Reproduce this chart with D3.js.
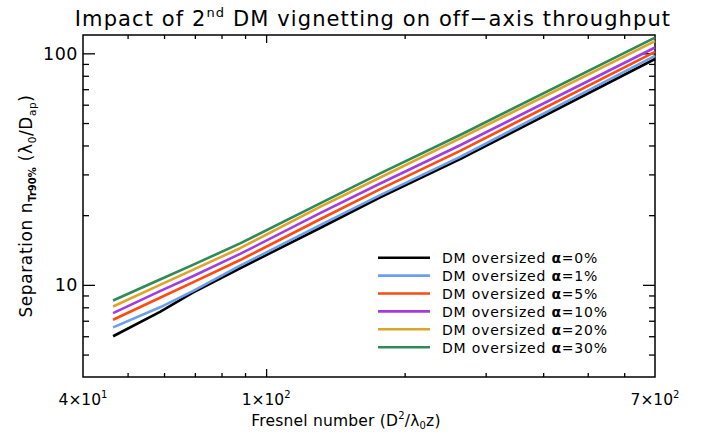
<!DOCTYPE html>
<html><head><meta charset="utf-8">
<script src="https://cdn.jsdelivr.net/npm/d3@7"></script>
<style>body{margin:0;background:#fff}svg{display:block}</style>
</head><body><svg id="c" width="717" height="435"></svg>
<script>
const fresnel = [46.5, 58.8, 69.3, 87.8, 131, 177, 264, 700];
const alphaLabels = ["0%", "1%", "5%", "10%", "20%", "30%"];
const sep0  = [6.0, 7.65, 9.25, 11.8, 17.6, 23.9, 34.9, 94.5];
const sep1  = [6.55, 8.0, 9.4, 12.1, 18.1, 24.4, 35.7, 97.5];
const sep5  = [7.07, 8.8, 10.25, 12.8, 19.2, 25.9, 37.9, 101.5];
const sep10 = [7.55, 9.4, 10.9, 13.6, 20.4, 27.4, 40.1, 106];
const sep20 = [8.06, 10.0, 11.6, 14.4, 21.7, 29.1, 42.9, 113];
const sep30 = [8.56, 10.55, 12.2, 15.1, 22.5, 30.3, 44.4, 117];
const seriesColors = ["#000000", "#6a9ff0", "#ff4a10", "#a03ce0", "#dca428", "#2e8b57"];
const xMajor = [100];
const xMinor = [50, 60, 70, 80, 90, 200, 300, 400, 500, 600];
const xTickLabels = [{v: 40, m: "4", e: "1"}, {v: 100, m: "1", e: "2"}, {v: 700, m: "7", e: "2"}];
const yMajor = [10, 100];
const yMinor = [5, 6, 7, 8, 9, 20, 30, 40, 50, 60, 70, 80, 90];

const series = [sep0, sep1, sep5, sep10, sep20, sep30].map((vals, i) => ({
  label: alphaLabels[i], color: seriesColors[i],
  pts: fresnel.map((f, j) => [f, vals[j]])
}));

const FONT = "DejaVu Sans";
const svg = d3.select("#c");
const L = 83, R = 655, T = 35, B = 377;
const x = d3.scaleLog().domain([40, 700]).range([L, R]);
const y = d3.scaleLog().domain([4, 120]).range([B, T]);

function axisStyle(g) {
  g.select(".domain").remove();
  g.selectAll("line").attr("stroke", "#000").attr("stroke-width", 1.3);
  g.selectAll("text").remove();
}
svg.append("g").attr("transform", `translate(0,${B})`).call(d3.axisBottom(x).tickValues(xMajor).tickSize(-8).tickFormat("")).call(axisStyle);
svg.append("g").attr("transform", `translate(0,${B})`).call(d3.axisBottom(x).tickValues(xMinor).tickSize(-4).tickFormat("")).call(axisStyle);
svg.append("g").attr("transform", `translate(0,${T})`).call(d3.axisTop(x).tickValues(xMajor).tickSize(-8).tickFormat("")).call(axisStyle);
svg.append("g").attr("transform", `translate(0,${T})`).call(d3.axisTop(x).tickValues(xMinor).tickSize(-4).tickFormat("")).call(axisStyle);
svg.append("g").attr("transform", `translate(${L},0)`).call(d3.axisLeft(y).tickValues(yMajor).tickSize(-12).tickFormat("")).call(axisStyle);
svg.append("g").attr("transform", `translate(${L},0)`).call(d3.axisLeft(y).tickValues(yMinor).tickSize(-6).tickFormat("")).call(axisStyle);
svg.append("g").attr("transform", `translate(${R},0)`).call(d3.axisRight(y).tickValues(yMajor).tickSize(-12).tickFormat("")).call(axisStyle);
svg.append("g").attr("transform", `translate(${R},0)`).call(d3.axisRight(y).tickValues(yMinor).tickSize(-6).tickFormat("")).call(axisStyle);

svg.append("rect").attr("x", L).attr("y", T).attr("width", R - L).attr("height", B - T)
  .attr("fill", "none").attr("stroke", "#000").attr("stroke-width", 1.5);

const line = d3.line().x(d => x(d[0])).y(d => y(d[1]));
svg.append("g").selectAll("path").data(series).join("path")
  .attr("d", d => line(d.pts)).attr("fill", "none")
  .attr("stroke", d => d.color).attr("stroke-width", 2.6).attr("stroke-linejoin", "round");

svg.append("g").selectAll("text").data(yMajor).join("text")
  .attr("x", L - 5).attr("y", d => y(d) + 6.5).attr("text-anchor", "end")
  .attr("font-family", FONT).attr("font-size", 17.5).attr("letter-spacing", 0.5).text(d => d);

const xl = svg.append("g").selectAll("text").data(xTickLabels).join("text")
  .attr("x", d => x(d.v)).attr("y", 405).attr("text-anchor", "middle")
  .attr("font-family", FONT).attr("font-size", 15.5);
xl.append("tspan").text(d => d.m + "\u00d710");
xl.append("tspan").attr("font-size", 10).attr("dy", -7).text(d => d.e);

const title = svg.append("text").attr("x", 373).attr("y", 26).attr("text-anchor", "middle")
  .attr("font-family", FONT).attr("font-size", 21).attr("letter-spacing", 1.1);
title.append("tspan").text("Impact of 2");
title.append("tspan").attr("font-size", 13).attr("dy", -9).text("nd");
title.append("tspan").attr("dy", 9).text(" DM vignetting on off\u2212axis throughput");

const xlab = svg.append("text").attr("x", 346).attr("y", 426).attr("text-anchor", "middle")
  .attr("font-family", FONT).attr("font-size", 15.5).attr("letter-spacing", 0.2);
xlab.append("tspan").text("Fresnel number (D");
xlab.append("tspan").attr("font-size", 10).attr("dy", -7).text("2");
xlab.append("tspan").attr("dy", 7).text("/\u03bb");
xlab.append("tspan").attr("font-size", 10).attr("dy", 3).text("0");
xlab.append("tspan").attr("dy", -3).text("z)");

const ylab = svg.append("text").attr("transform", "translate(32,206) rotate(-90)").attr("text-anchor", "middle")
  .attr("font-family", FONT).attr("font-size", 17).attr("letter-spacing", 0.6);
ylab.append("tspan").text("Separation n");
ylab.append("tspan").attr("font-size", 10).attr("font-weight", "bold").attr("letter-spacing", 0).attr("dy", 4).text("Tr90%");
ylab.append("tspan").attr("dy", -4).text(" (\u03bb");
ylab.append("tspan").attr("font-size", 10.5).attr("dy", 4).text("0");
ylab.append("tspan").attr("dy", -4).text("/D");
ylab.append("tspan").attr("font-size", 10.5).attr("dy", 4).text("ap");
ylab.append("tspan").attr("dy", -4).text(")");

const lg = svg.append("g").selectAll("g").data(series).join("g")
  .attr("transform", (d, i) => `translate(0,${257.7 + i * 17.9})`);
lg.append("line").attr("x1", 378).attr("x2", 430).attr("stroke", d => d.color).attr("stroke-width", 2.6);
const lt = lg.append("text").attr("x", 442).attr("y", 5.5).attr("font-family", FONT)
  .attr("font-size", 14).attr("letter-spacing", 0.8);
lt.append("tspan").text("DM oversized ");
lt.append("tspan").attr("font-weight", "bold").text("\u03b1");
lt.append("tspan").text(d => "=" + d.label);
</script></body></html>
